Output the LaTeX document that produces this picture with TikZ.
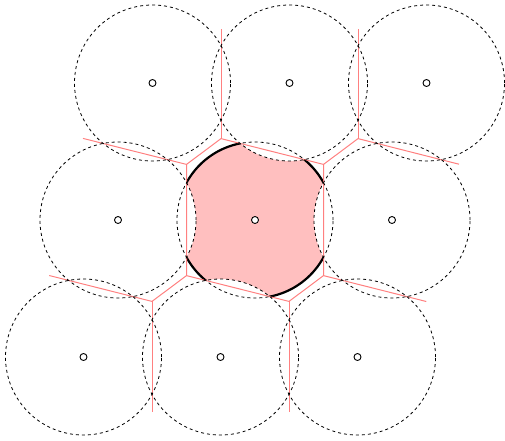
\documentclass[tikz,border=0pt]{standalone}
\begin{document}
\begin{tikzpicture}[x=1pt,y=-1pt,
  sitedot/.style={circle,draw,fill=white,inner sep=0pt,minimum size=7pt,line width=0.9pt},
  rangecirc/.style={dashed,line width=0.8pt},
  vorline/.style={draw=red!50,line width=1pt},
  cellfill/.style={fill=red!25},
  arcline/.style={line width=2.2pt}]
\useasboundingbox (0,0) rectangle (505,440);
% sites
\coordinate (c11) at (152.5,83);
\coordinate (c12) at (289.5,83);
\coordinate (c13) at (426.5,83);
\coordinate (c21) at (118,220);
\coordinate (c22) at (255,220);
\coordinate (c23) at (392,220);
\coordinate (c31) at (83.5,357);
\coordinate (c32) at (220.5,357);
\coordinate (c33) at (357.5,357);
% Voronoi vertices
\coordinate (vA) at (186.5,164.4);
\coordinate (vB) at (221,138.6);
\coordinate (vC) at (323.5,164.4);
\coordinate (vD) at (323.5,275.6);
\coordinate (vE) at (289,301.4);
\coordinate (vF) at (186.5,275.6);
\coordinate (vG) at (358,138.6);
\coordinate (vH) at (152,301.4);
% ray ends
\coordinate (eA) at (83,138.4);
\coordinate (eB) at (221,29);
\coordinate (eG1) at (358,29);
\coordinate (eG2) at (459,164.2);
\coordinate (eD) at (426.3,301.5);
\coordinate (eE) at (289,412);
\coordinate (eH1) at (152,412);
\coordinate (eH2) at (49.2,275.5);
% pink region: center disk minus neighbouring disks
\fill[cellfill] (c22) circle[radius=78pt];
\draw[arcline] (c22) circle[radius=78pt];
\foreach \n in {c21,c23,c12,c32}
  \fill[white] (\n) circle[radius=78pt];
% Voronoi diagram
\draw[vorline] (vA) -- (vB) -- (vC) -- (vD) -- (vE) -- (vF) -- cycle;
\draw[vorline] (vA) -- (eA);
\draw[vorline] (vB) -- (eB);
\draw[vorline] (vC) -- (vG);
\draw[vorline] (vG) -- (eG1);
\draw[vorline] (vG) -- (eG2);
\draw[vorline] (vD) -- (eD);
\draw[vorline] (vE) -- (eE);
\draw[vorline] (vF) -- (vH);
\draw[vorline] (vH) -- (eH1);
\draw[vorline] (vH) -- (eH2);
% ranges
\foreach \n in {c11,c12,c13,c21,c22,c23,c31,c32,c33}
  \draw[rangecirc] (\n) circle[radius=78pt];
% site markers
\foreach \n in {11,12,13,21,22,23,31,32,33}
  \node[sitedot] (s\n) at (c\n) {};
\end{tikzpicture}
\end{document}
